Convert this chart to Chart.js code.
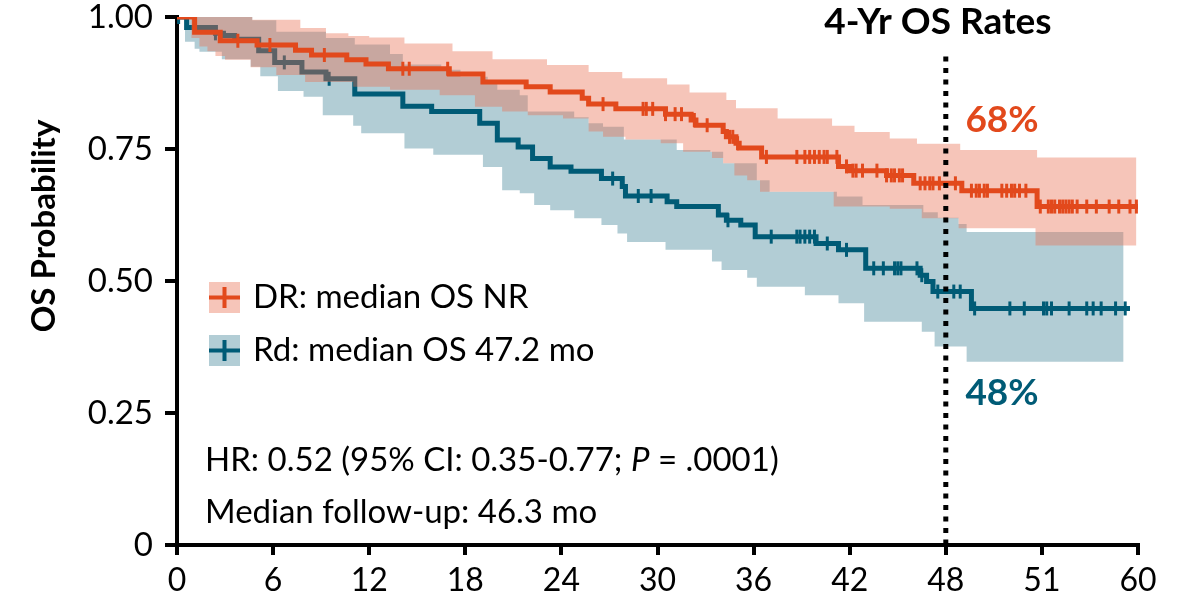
<!DOCTYPE html>
<html>
<head>
<meta charset="utf-8">
<script src="https://cdn.jsdelivr.net/npm/chart.js@4.4.0/dist/chart.umd.min.js"></script>
<style>
body { margin: 0; background: #fff; }
#wrap { width: 1185px; height: 604px; }
</style>
</head>
<body>
<div id="wrap"><canvas id="km" width="1185" height="604"></canvas></div>
<script>
'use strict';
// KM steps, [month, OS probability], value holds until next point
var drCurve = [[0,1.0],[1.1,0.971],[2.7,0.955],[5.0,0.947],[7.4,0.937],[8.4,0.928],[10.6,0.919],[11.8,0.911],
  [13.2,0.902],[17.0,0.892],[19.1,0.877],[21.8,0.868],[23.3,0.858],[25.3,0.846],[25.7,0.835],[27.4,0.826],
  [30.5,0.816],[32.1,0.805],[32.4,0.795],[34.1,0.783],[34.3,0.773],[34.9,0.761],[35.1,0.752],[36.5,0.735],
  [41.3,0.717],[42.0,0.709],[44.3,0.700],[46.0,0.685],[49.0,0.671],[53.7,0.641],[60.2,0.641]];
var rdCurve = [[0,1.0],[0.6,0.980],[2.4,0.969],[2.9,0.965],[3.6,0.958],[5.1,0.936],[6.1,0.914],[7.8,0.896],
  [9.3,0.883],[11.1,0.854],[14.1,0.831],[15.9,0.821],[18.9,0.799],[20.0,0.767],[21.3,0.754],[22.2,0.732],
  [23.3,0.716],[24.6,0.708],[26.5,0.694],[27.8,0.679],[28.0,0.661],[30.6,0.650],[31.2,0.641],[33.8,0.625],
  [34.3,0.615],[35.2,0.606],[36.1,0.584],[39.9,0.571],[41.3,0.559],[43.0,0.524],[46.4,0.511],[46.8,0.499],
  [47.2,0.480],[49.6,0.448],[59.5,0.448]];

// 95% CI bands
var drUpper = [[0,1.0],[4.7,0.995],[7.7,0.979],[9.3,0.969],[10.7,0.964],[12.0,0.961],[14.2,0.950],[17.2,0.935],
  [19.7,0.920],[23.1,0.909],[25.7,0.896],[27.8,0.884],[30.6,0.872],[32.0,0.857],[34.3,0.843],[34.9,0.827],
  [37.5,0.808],[40.9,0.794],[42.3,0.782],[44.5,0.770],[46.2,0.760],[48.9,0.748],[53.7,0.734],[59.9,0.734]];
var drLower = [[0,1.0],[0.9,0.960],[1.4,0.944],[1.9,0.935],[2.4,0.926],[3.0,0.919],[4.6,0.905],[6.2,0.890],
  [8.0,0.877],[11.0,0.868],[13.3,0.862],[16.4,0.852],[18.6,0.830],[20.3,0.821],[21.9,0.814],[24.1,0.808],
  [25.7,0.783],[26.6,0.773],[28.0,0.768],[30.2,0.761],[31.6,0.745],[33.4,0.733],[34.1,0.723],[34.8,0.700],
  [35.6,0.691],[36.4,0.669],[41.0,0.641],[44.5,0.637],[46.5,0.619],[48.8,0.600],[53.6,0.567],[59.9,0.567]];
var rdUpper = [[0,1.0],[4.7,0.994],[6.2,0.972],[9.3,0.960],[11.1,0.948],[13.3,0.930],[14.1,0.910],[16.5,0.900],
  [17.7,0.887],[19.4,0.875],[20.0,0.862],[21.4,0.852],[21.9,0.821],[24.8,0.810],[25.7,0.799],[26.6,0.792],
  [27.9,0.768],[31.2,0.748],[33.3,0.745],[34.1,0.723],[36.2,0.691],[37.0,0.669],[41.2,0.660],[42.8,0.644],
  [46.6,0.630],[47.5,0.620],[48.8,0.608],[49.3,0.593],[59.1,0.593]];
var rdLower = [[0,1.0],[0.5,0.953],[1.1,0.940],[1.4,0.934],[2.8,0.920],[4.6,0.906],[5.2,0.888],[6.3,0.860],
  [7.9,0.849],[9.1,0.814],[11.0,0.794],[11.5,0.780],[14.2,0.751],[16.0,0.739],[19.1,0.716],[20.3,0.672],
  [21.4,0.666],[22.3,0.644],[23.3,0.634],[24.8,0.619],[26.5,0.606],[27.5,0.590],[28.1,0.574],[30.5,0.559],
  [33.4,0.537],[34.0,0.521],[35.6,0.506],[36.2,0.489],[39.2,0.473],[41.3,0.458],[42.9,0.423],[46.5,0.404],
  [47.3,0.376],[49.3,0.347],[59.1,0.347]];

// censoring times (months)
var drCensor = [3.8,5.8,9.2,14.1,14.5,16.9,26.6,29.1,29.3,29.7,30.5,31.1,31.5,32.3,33.1,34.5,34.7,35.0,36.8,
  38.7,39.2,39.5,39.8,40.1,40.4,40.6,41.2,41.8,42.2,42.4,42.8,43.7,44.3,44.6,44.8,45.1,45.3,46.4,46.7,47.0,
  47.2,47.6,48.6,49.6,49.9,50.1,50.4,50.6,51.5,51.8,52.1,52.3,52.6,53.0,53.9,54.4,54.6,54.8,55.1,55.3,55.5,
  55.7,55.9,56.2,56.8,57.4,58.2,58.8,59.5,59.9];
var rdCensor = [0.1,2.4,6.7,9.5,27.2,28.8,29.6,34.4,37.1,38.7,38.9,39.2,39.5,39.8,40.6,41.8,43.5,44.1,44.8,
  45.0,45.2,46.2,46.5,47.5,48.5,48.9,49.8,52.0,52.9,54.1,54.3,54.6,55.7,56.8,57.2,57.7,58.6,59.2];

var xTickLabels = ['0','6','12','18','24','30','36','42','48','51','60'];
var yTickLabels = ['0','0.25','0.50','0.75','1.00'];
var landmark = [[48,0.925],[48,0]];

var ORANGE = '#E2491C';
var BLUE = '#005B76';
var FONT = 'Lato, "Open Sans", sans-serif';

function pts(arr) {
  return arr.map(function(p) { return {x: p[0], y: p[1]}; });
}
function survAt(curve, t) {
  var s = curve[0][1];
  for (var i in curve) {
    if (curve[i][0] <= t) s = curve[i][1];
  }
  return s;
}
function censorPts(curve, times) {
  return times.map(function(t) { return {x: t, y: survAt(curve, t)}; });
}
function tickMark(data, color, order) {
  return {data: data, showLine: false, pointStyle: 'line', rotation: 90, pointRadius: 7,
    borderColor: color, pointBorderWidth: 3, order: order};
}
function stepLine(data, color, width, order) {
  return {data: pts(data), showLine: true, stepped: 'before', borderColor: color, borderWidth: width,
    pointRadius: 0, fill: false, order: order};
}

// text, legend and the y title drawn over the plot
var annotations = {
  id: 'annotations',
  afterDraw: function(chart) {
    var ctx = chart.ctx;
    ctx.save();
    ctx.textBaseline = 'middle';

    ctx.fillStyle = '#000';
    ctx.font = 'bold 33px ' + FONT;
    ctx.save();
    ctx.translate(44, 226);
    ctx.rotate(-Math.PI / 2);
    ctx.textAlign = 'center';
    ctx.fillText('OS Probability', 0, 0);
    ctx.restore();

    ctx.textAlign = 'center';
    ctx.font = 'bold 37px ' + FONT;
    ctx.fillText('4-Yr OS Rates', 938, 22);
    ctx.fillStyle = ORANGE;
    ctx.fillText('68%', 1002, 120);
    ctx.fillStyle = BLUE;
    ctx.fillText('48%', 1002, 393);

    // legend
    var items = [['DR: median OS NR', ORANGE, 'rgba(233,110,80,0.4)', 297],
      ['Rd: median OS 47.2 mo', BLUE, 'rgba(0,90,115,0.3)', 350]];
    ctx.textAlign = 'left';
    ctx.font = '33px ' + FONT;
    items.forEach(function(it) {
      var y = it[3];
      ctx.fillStyle = it[2];
      ctx.fillRect(209, y - 15, 31, 31);
      ctx.strokeStyle = it[1];
      ctx.lineWidth = 4;
      ctx.beginPath();
      ctx.moveTo(209, y + 0.5); ctx.lineTo(240, y + 0.5);
      ctx.moveTo(224.5, y - 10); ctx.lineTo(224.5, y + 11);
      ctx.stroke();
      ctx.fillStyle = '#000';
      ctx.fillText(it[0], 253, y);
    });

    // HR line with italic P
    var x = 205, y1 = 460;
    var a = 'HR: 0.52 (95% CI: 0.35-0.77; ', b = 'P', c = ' = .0001)';
    ctx.font = '33px ' + FONT;
    ctx.fillText(a, x, y1);
    x += ctx.measureText(a).width;
    ctx.font = 'italic 33px ' + FONT;
    ctx.fillText(b, x, y1);
    x += ctx.measureText(b).width;
    ctx.font = '33px ' + FONT;
    ctx.fillText(c, x, y1);
    ctx.fillText('Median follow-up: 46.3 mo', 205, 512);
    ctx.restore();
  }
};

new Chart(document.getElementById('km'), {
  type: 'scatter',
  data: {
    datasets: [
      // 0: landmark line at 48 months
      {data: pts(landmark), showLine: true, borderColor: '#000', borderWidth: 5, borderDash: [5, 6.5],
        pointRadius: 0, order: 0},
      // 1-4: DR
      tickMark(censorPts(drCurve, drCensor), ORANGE, 1),
      stepLine(drCurve, ORANGE, 5, 2),
      {data: pts(drUpper), showLine: true, stepped: 'before', borderWidth: 0, pointRadius: 0,
        backgroundColor: 'rgba(233,110,80,0.4)', fill: 4, order: 3},
      {data: pts(drLower), showLine: true, stepped: 'before', borderWidth: 0, pointRadius: 0, fill: false, order: 4},
      // 5-8: Rd
      tickMark(censorPts(rdCurve, rdCensor), BLUE, 5),
      stepLine(rdCurve, BLUE, 5, 6),
      {data: pts(rdUpper), showLine: true, stepped: 'before', borderWidth: 0, pointRadius: 0,
        backgroundColor: 'rgba(0,90,115,0.3)', fill: 8, order: 7},
      {data: pts(rdLower), showLine: true, stepped: 'before', borderWidth: 0, pointRadius: 0, fill: false, order: 8}
    ]
  },
  options: {
    responsive: false,
    animation: false,
    devicePixelRatio: 1,
    layout: {padding: {left: 0, right: 47, top: 17, bottom: 0}},
    plugins: {legend: {display: false}, tooltip: {enabled: false}},
    scales: {
      x: {
        type: 'linear', min: 0, max: 60,
        afterFit: function(s) { s.height = 59; s.paddingLeft = 0; s.paddingRight = 0; },
        border: {color: '#000', width: 4},
        grid: {drawOnChartArea: false, drawTicks: true, tickLength: 10, color: '#000', lineWidth: 4},
        ticks: {stepSize: 6, color: '#000', padding: 6, font: {family: FONT, size: 32},
          maxRotation: 0, autoSkip: false,
          callback: function(v, i) { return xTickLabels[i]; }}
      },
      y: {
        min: 0, max: 1,
        afterFit: function(s) { s.width = 177; s.paddingTop = 0; s.paddingBottom = 0; },
        border: {color: '#000', width: 4},
        grid: {drawOnChartArea: false, drawTicks: true, tickLength: 12, color: '#000', lineWidth: 4},
        ticks: {stepSize: 0.25, color: '#000', padding: 12, font: {family: FONT, size: 33},
          callback: function(v, i) { return yTickLabels[i]; }}
      }
    }
  },
  plugins: [annotations]
});
</script>
</body>
</html>
